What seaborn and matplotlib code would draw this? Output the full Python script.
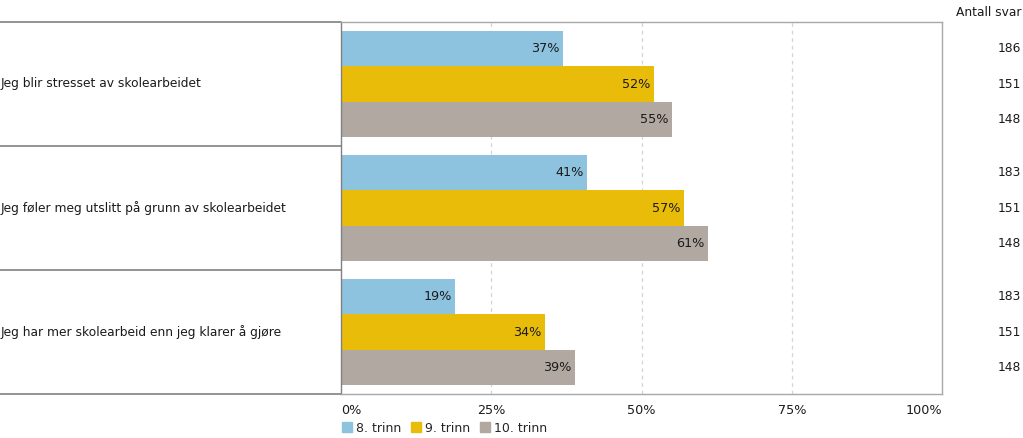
# Skolearbeid og stress - andel per trinn
import pandas as pd
import matplotlib.pyplot as plt
import matplotlib.transforms as mtransforms
from matplotlib.patches import Patch
import seaborn as sns

questions = [
    "Jeg blir stresset av skolearbeidet",
    "Jeg føler meg utslitt på grunn av skolearbeidet",
    "Jeg har mer skolearbeid enn jeg klarer å gjøre",
]
trinn = ["8. trinn", "9. trinn", "10. trinn"]
pct_8 = [37, 41, 19]
pct_9 = [52, 57, 34]
pct_10 = [55, 61, 39]
antall_8 = [186, 183, 183]
antall_9 = [151, 151, 151]
antall_10 = [148, 148, 148]
x_ticks = [0, 25, 50, 75, 100]

colors = ["#8dc3df", "#e9bc0a", "#b0a8a1"]

rows = []
for i, q in enumerate(questions):
    for t, p, n in zip(trinn, [pct_8[i], pct_9[i], pct_10[i]],
                       [antall_8[i], antall_9[i], antall_10[i]]):
        rows.append({"question": q, "trinn": t, "pct": p, "n": n})
df = pd.DataFrame(rows)

sns.set_style("white")
plt.rcParams["font.family"] = ["DejaVu Sans"]
txt = "#1a1a1a"

fig = plt.figure(figsize=(10.23, 4.38), dpi=100)
ax = fig.add_axes([341 / 1023, 44 / 438, 601 / 1023, 372 / 438])

bar_w = 0.855
sns.barplot(data=df, y="question", x="pct", hue="trinn", hue_order=trinn,
            palette=colors, saturation=1, width=bar_w, orient="h",
            legend=False, linewidth=0, ax=ax)

for cont in ax.containers:
    texts = ax.bar_label(cont, labels=[f"{v:.0f}%" for v in cont.datavalues],
                         padding=-2.5, fontsize=9.2, color=txt)
    for t in texts:
        t.set_ha("right")

ax.set_xlim(0, 100)
ax.set_ylim(2.5, -0.5)
ax.set_xlabel("")
ax.set_ylabel("")
ax.set_yticks([])
ax.set_xticks(x_ticks)
ax.set_xticklabels([f"{v}%" for v in x_ticks], fontsize=9.2, color=txt)
ax.tick_params(axis="x", length=0, pad=7)
xl = ax.get_xticklabels()
xl[0].set_ha("left")
xl[-1].set_ha("right")

for v in x_ticks[1:-1]:
    ax.axvline(v, color="#d4d4d4", lw=0.9, ls=(0, (3, 3)), zorder=0)

for s in ax.spines.values():
    s.set_color("#a8a8a8")
    s.set_linewidth(1)
ax.spines["left"].set_color("#808080")

# question column on the left
ytr = ax.get_yaxis_transform()
left_x = -341 / 601
for y in [-0.5, 0.5, 1.5, 2.5]:
    ax.plot([left_x, 0], [y, y], transform=ytr, color="#808080", lw=1.2,
            clip_on=False)
for i, q in enumerate(questions):
    ax.text(left_x + 0.001, i, q, transform=ytr, ha="left", va="center",
            fontsize=8.8, color=txt)

# antall svar column on the right
ftr = mtransforms.blended_transform_factory(fig.transFigure, ax.transData)
fig.text(1022 / 1023, 1 - 13 / 438, "Antall svar", ha="right", va="center",
         fontsize=8.8, color=txt)
step = bar_w / 3
for i in range(len(questions)):
    for j, n in enumerate([antall_8[i], antall_9[i], antall_10[i]]):
        ax.text(1021 / 1023, i + (j - 1) * step, str(n), transform=ftr,
                ha="right", va="center", fontsize=8.8, color=txt)

handles = [Patch(color=c, label=t) for c, t in zip(colors, trinn)]
fig.legend(handles=handles, loc="center left",
           bbox_to_anchor=(337 / 1023, 1 - 428 / 438), ncol=3, frameon=False,
           fontsize=9, handlelength=0.8, handleheight=0.8,
           handletextpad=0.3, columnspacing=0.8, borderaxespad=0)

fig.savefig("out.png", dpi=100)
